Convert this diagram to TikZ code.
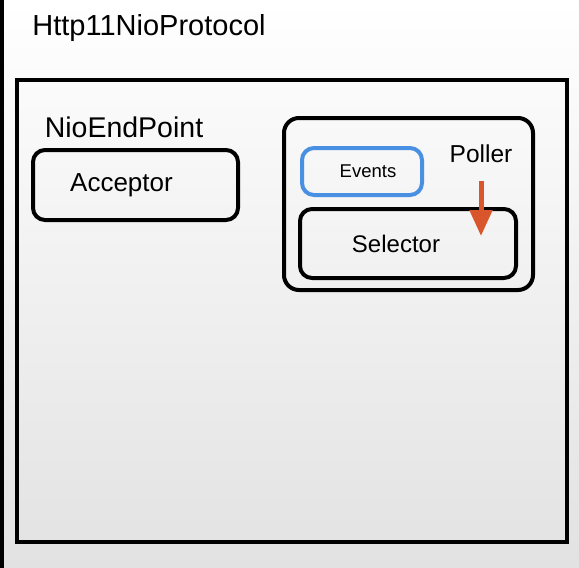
\documentclass[tikz,border=0pt]{standalone}
\usepackage{fontspec}
\setmainfont{Liberation Sans}
\usepackage{tikz}
\usetikzlibrary{arrows.meta, positioning}
\definecolor{eventsblue}{RGB}{74,144,226}
\definecolor{pollerred}{RGB}{217,85,43}
\definecolor{framegray}{RGB}{226,226,226}
\tikzstyle{frame}=[rectangle, draw=black, line width=4pt, inner sep=0pt]
\tikzstyle{box}=[rectangle, rounded corners=12pt, draw=black, line width=4pt, inner sep=0pt]
\tikzstyle{eventbox}=[rectangle, rounded corners=12pt, draw=eventsblue, line width=4pt, inner sep=0pt]
\tikzstyle{title}=[inner sep=0pt, font=\fontsize{29}{32}\selectfont]
\tikzstyle{arrow}=[draw=pollerred, line width=5pt, -{Triangle[width=22pt,length=26pt]}]

\begin{document}
\begin{tikzpicture}[x=1pt, y=-1pt]
		% background of the frame
		\shade[top color=white, middle color=white, bottom color=framegray] (0,0) rectangle (579,568);
		\useasboundingbox (0,0) rectangle (579,568);
		\draw[line width=4pt] (2,0) -- (2,568);
		
		\node(protocol-label)[title] at (149,28){Http11NioProtocol};
		\node(protocol)[frame, minimum width=550pt, minimum height=462pt] at (292,311){};
		
		\node(endpoint-label)[title, font=\fontsize{28.5}{32}\selectfont] at (124,127){NioEndPoint};
		\node(acceptor)[box, minimum width=205pt, minimum height=70pt, font=\fontsize{26}{30}\selectfont] at (135.5,185){Acceptor\hspace*{28pt}};
		
		\node(poller)[box, rounded corners=15pt, minimum width=249pt, minimum height=172pt] at (408.5,204){};
		\node(poller-label)[inner sep=0pt, font=\fontsize{24.5}{28}\selectfont] at (481,154){Poller};
		\node(events)[eventbox, minimum width=120pt, minimum height=47pt, font=\fontsize{18.5}{22}\selectfont] at (362,171.5){\hspace*{12pt}Events};
		\node(selector)[box, minimum width=216pt, minimum height=69pt, font=\fontsize{24}{28}\selectfont] at (408,243.5){Selector\hspace*{24pt}};
		
		\coordinate(arrow-start) at (481,181);
		\coordinate(arrow-end) at (481,236);
		\draw[arrow](arrow-start)--(arrow-end);
\end{tikzpicture}
\end{document}
